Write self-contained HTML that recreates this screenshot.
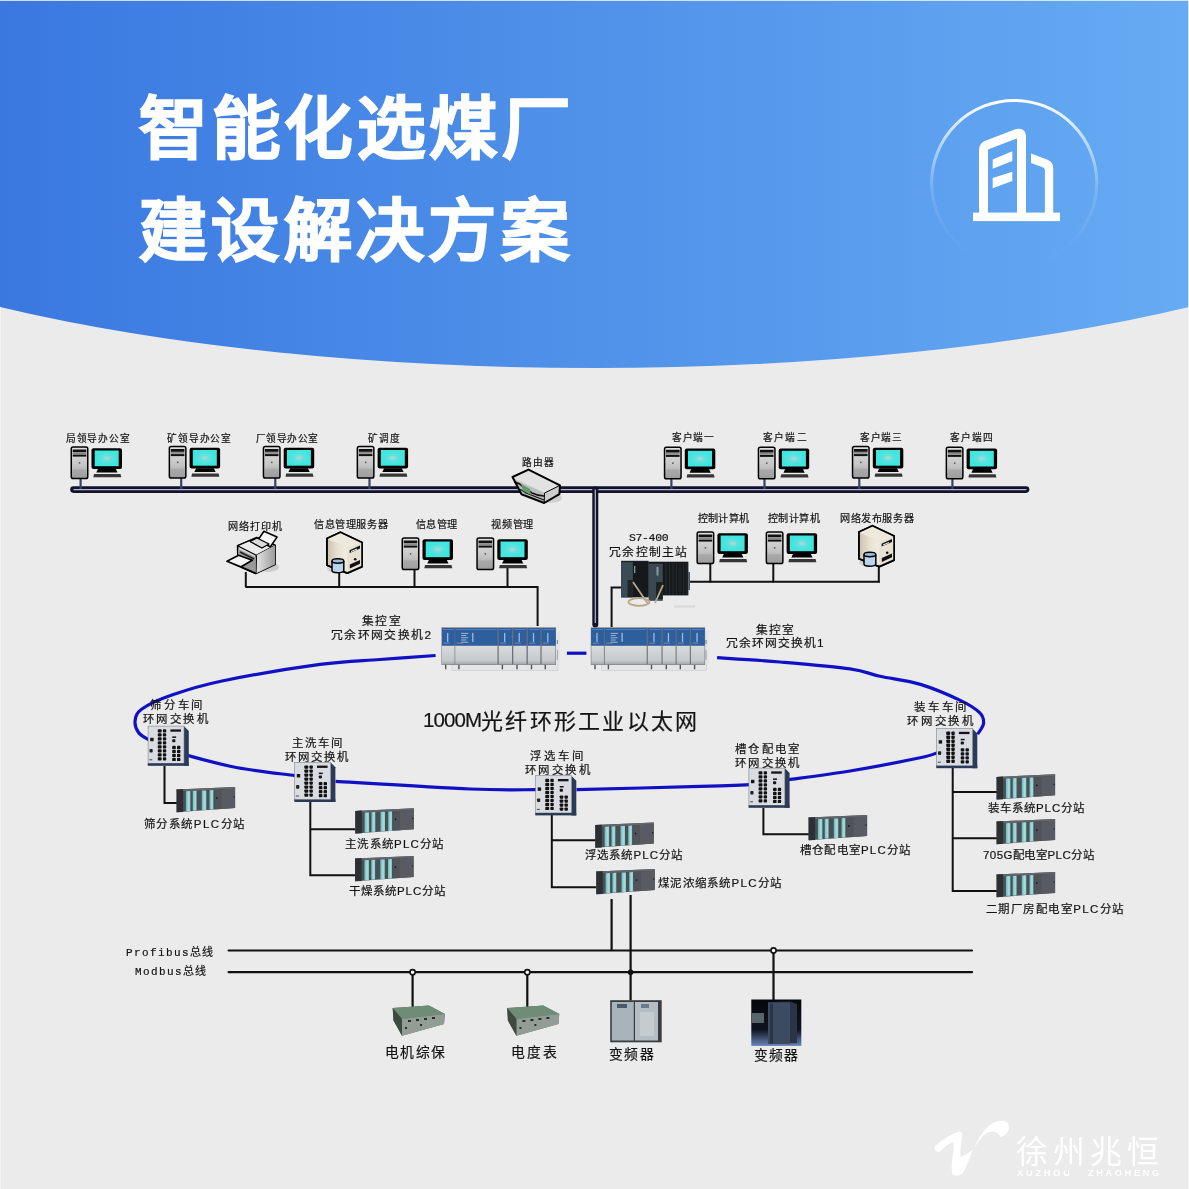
<!DOCTYPE html>
<html lang="zh-CN"><head><meta charset="utf-8"><title>智能化选煤厂建设解决方案</title>
<style>
html,body{margin:0;padding:0;}
body{width:1189px;height:1189px;position:relative;overflow:hidden;background:#ebebeb;font-family:"Liberation Sans",sans-serif;}
svg{position:absolute;left:0;top:0;}
.l{position:absolute;white-space:nowrap;line-height:1;color:#141414;will-change:transform;}
.t{color:#fff;}
</style></head><body>
<svg width="1189" height="1189" viewBox="0 0 1189 1189">
<defs>
<linearGradient id="hg" x1="0" x2="1" y1="0" y2="0"><stop offset="0" stop-color="#3a78e0"/><stop offset="1" stop-color="#66abf3"/></linearGradient>
<linearGradient id="cg" x1="0" x2="0" y1="0" y2="1"><stop offset="0" stop-color="#fff" stop-opacity="1"/><stop offset="0.3" stop-color="#fff" stop-opacity="0.5"/><stop offset="0.55" stop-color="#fff" stop-opacity="0.14"/><stop offset="0.85" stop-color="#fff" stop-opacity="0.02"/><stop offset="1" stop-color="#fff" stop-opacity="0"/></linearGradient>
<linearGradient id="towerg" x1="0" x2="0" y1="0" y2="1"><stop offset="0" stop-color="#e0e0e0"/><stop offset="0.6" stop-color="#c4c4c4"/><stop offset="1" stop-color="#9a9a9a"/></linearGradient>
<radialGradient id="scrg" r="0.45"><stop offset="0" stop-color="#b4d8d8"/><stop offset="0.45" stop-color="#5ee2de"/><stop offset="1" stop-color="#3ee6e0"/></radialGradient>
<linearGradient id="swgrey" x1="0" x2="0" y1="0" y2="1"><stop offset="0" stop-color="#d8dcdf"/><stop offset="0.8" stop-color="#c6c9cc"/><stop offset="1" stop-color="#a4a8ac"/></linearGradient>
<linearGradient id="tealg" x1="0" x2="1"><stop offset="0" stop-color="#6ab8bc"/><stop offset="0.6" stop-color="#a8dcda"/><stop offset="1" stop-color="#88cccc"/></linearGradient>
<linearGradient id="beige" x1="0" x2="1"><stop offset="0" stop-color="#cdc3ae"/><stop offset="0.5" stop-color="#e9e2d2"/><stop offset="1" stop-color="#f2ede2"/></linearGradient>
<linearGradient id="prg" x1="0" x2="1"><stop offset="0" stop-color="#e6e6e6"/><stop offset="1" stop-color="#9c9c9c"/></linearGradient>
<g id="pc">
 <rect x="0.75" y="0.75" width="16.5" height="31.5" rx="1.8" fill="url(#towerg)" stroke="#000" stroke-width="1.5"/>
 <rect x="2.2" y="3.2" width="13.6" height="2.8" fill="#111"/>
 <rect x="2.2" y="6.2" width="13.6" height="1.8" fill="#8a8a8a"/>
 <rect x="2.2" y="8.3" width="13.6" height="2" fill="#111"/>
 <rect x="8.3" y="15.8" width="1.5" height="1.5" fill="#555"/>
 <rect x="2.2" y="23" width="13.6" height="7.5" fill="#a0a0a0" opacity="0.6"/>
 <rect x="21" y="2" width="30.5" height="20.7" rx="2" fill="#000"/>
 <rect x="24.2" y="4.2" width="24" height="15.7" fill="url(#scrg)"/>
 <path d="M27.5,22.5 H45.2 L47,26.2 H25.8 Z" fill="#000"/>
 <path d="M23.5,27.7 H50 L50.8,31 H22.8 Z" fill="#353535"/>
</g>
<g id="sw">
 <path d="M36,0.3 L41,5.3 V40 H36 Z" fill="#2b3a57"/>
 <rect x="0.3" y="0.3" width="35.9" height="38.3" fill="#d9dde2" stroke="#7c8490" stroke-width="0.6"/>
 <rect x="0" y="37.4" width="41" height="2.6" fill="#2b3a57"/>
 <g fill="#111"><rect x="9.95" y="3.4" width="3.9" height="3.3" rx="0.9"/><rect x="15.05" y="3.4" width="3.4" height="3.3" rx="0.9"/><rect x="9.95" y="7.4" width="3.9" height="3.3" rx="0.9"/><rect x="15.05" y="7.4" width="3.4" height="3.3" rx="0.9"/><rect x="9.95" y="11.4" width="3.9" height="3.3" rx="0.9"/><rect x="15.05" y="11.4" width="3.4" height="3.3" rx="0.9"/><rect x="9.95" y="15.4" width="3.9" height="3.3" rx="0.9"/><rect x="15.05" y="15.4" width="3.4" height="3.3" rx="0.9"/><rect x="9.95" y="19.4" width="3.9" height="3.3" rx="0.9"/><rect x="15.05" y="19.4" width="3.4" height="3.3" rx="0.9"/><rect x="9.95" y="23.4" width="3.9" height="3.3" rx="0.9"/><rect x="15.05" y="23.4" width="3.4" height="3.3" rx="0.9"/><rect x="9.95" y="27.4" width="3.9" height="3.3" rx="0.9"/><rect x="15.05" y="27.4" width="3.4" height="3.3" rx="0.9"/><rect x="9.95" y="31.4" width="3.9" height="3.3" rx="0.9"/><rect x="15.05" y="31.4" width="3.4" height="3.3" rx="0.9"/><rect x="24.4" y="20.0" width="3.6" height="3.3" rx="0.9"/><rect x="29.2" y="20.0" width="3.4" height="3.3" rx="0.9"/><rect x="24.4" y="24.0" width="3.6" height="3.3" rx="0.9"/><rect x="29.2" y="24.0" width="3.4" height="3.3" rx="0.9"/><rect x="24.4" y="28.0" width="3.6" height="3.3" rx="0.9"/><rect x="29.2" y="28.0" width="3.4" height="3.3" rx="0.9"/><rect x="24.4" y="32.0" width="3.6" height="3.3" rx="0.9"/><rect x="29.2" y="32.0" width="3.4" height="3.3" rx="0.9"/></g>
 
 <rect x="22.6" y="3.6" width="10.6" height="2.3" fill="#151515"/>
 <rect x="24.4" y="10.6" width="4" height="1.5" fill="#151515"/>
 <rect x="24.4" y="13.4" width="3.2" height="3" rx="0.8" fill="#151515"/>
 <rect x="2.4" y="12" width="3.4" height="3.4" fill="#151515"/>
 <rect x="1.7" y="23.1" width="3.2" height="3.6" rx="0.8" fill="#222"/>
 <rect x="1.5" y="33.5" width="3" height="1" fill="#444"/>
</g>
<g id="plc">
 <path d="M0.3,2.6 L58.8,0 V21 L0.3,25.3 Z" fill="#4a4e55"/>
 <path d="M0.3,2.6 L58.8,0 V1.8 L0.3,4.6 Z" fill="#62666c"/>
 <path d="M0.3,2.6 L6.8,2.3 V24.9 L0.3,25.3 Z" fill="#2c3034"/>
 <path d="M9.6,4.3 L14.1,4.1 V23.9 L9.6,24.2 Z" fill="url(#tealg)"/>
 <path d="M16.4,4.0 L20.3,3.8 V23.5 L16.4,23.8 Z" fill="url(#tealg)"/>
 <path d="M25.5,3.6 L30,3.4 V22.9 L25.5,23.2 Z" fill="url(#tealg)"/>
 <path d="M33.2,3.3 L37.1,3.1 V22.4 L33.2,22.6 Z" fill="url(#tealg)"/>
 <path d="M38.5,2.9 L45,2.6 V21.9 L38.5,22.3 Z" fill="#50545a"/>
 <path d="M45,2.6 L58.8,1.8 V21 L45,21.9 Z" fill="#585b61"/>
 <rect x="39.8" y="10.3" width="1.5" height="1.5" fill="#111"/>
 <rect x="57" y="9.5" width="1.3" height="1.3" fill="#222"/>
</g>
<g id="srv" stroke-linejoin="round">
 <ellipse cx="10" cy="37" rx="9" ry="4" fill="#c8c8c8" opacity="0.7"/>
 <path d="M0.9,6.4 L14.4,0.2 L36.1,10.6 L36.1,34.6 L21.3,41.1 L0.9,33.2 Z" fill="#ddd5c4" stroke="#000" stroke-width="1.7"/>
 <path d="M0.9,6.4 L14.4,0.2 L36.1,10.6 L21.8,16.5 Z" fill="#eee9dd"/>
 <path d="M1.8,7.5 L21.8,16.5 L21.3,40 L1.8,32.5 Z" fill="url(#beige)"/>
 <path d="M21.8,16.5 L36.1,10.6 L36.1,34.6 L21.3,41.1 Z" fill="#e8e2d4"/>
 <path d="M23.6,18.2 L34,13.6 V16.4 L23.6,21 Z" fill="#111"/>
 <path d="M25,19.5 L31,17" stroke="#fff" stroke-width="1"/>
 <circle cx="29.2" cy="27.2" r="1.3" fill="#111"/>
 <path d="M23.8,32.5 L34,28 V31.8 L23.8,36.5 Z" fill="#111"/>
 <path d="M0.9,6.4 L14.4,0.2 L36.1,10.6 L36.1,34.6 L21.3,41.1 L0.9,33.2 Z" fill="none" stroke="#000" stroke-width="1.7"/>
 <path d="M6,29 V38.6 A5.9,2.2 0 0 0 17.8,38.6 V29" fill="#b8d4ee" stroke="#000" stroke-width="1.5"/>
 <ellipse cx="11.9" cy="29" rx="5.9" ry="2.2" fill="#9cbce0" stroke="#000" stroke-width="1.5"/>
</g>
</defs>
<path d="M0,0 H1189 V307 A900,244.8 0 0 1 0,307 Z" fill="url(#hg)"/>
<rect x="0" y="0" width="1189" height="1" fill="#f4f8ff" opacity="0.8"/>
<rect x="1188" y="0" width="1" height="308" fill="#f4f8ff" opacity="0.8"/><rect x="1188" y="308" width="1" height="881" fill="#f6f6f6"/><rect x="0" y="307" width="1" height="882" fill="#f4f4f4"/>
<circle cx="1014.2" cy="183" r="82.6" fill="none" stroke="url(#cg)" stroke-width="3"/>
<g fill="none" stroke="#fff" stroke-width="9" stroke-linejoin="round">
 <path d="M983.5,213 V150 Q983.5,146.5 987,145 L1017,133.5 Q1021.5,132 1021.5,137 V213"/>
</g>
<rect x="973" y="212.6" width="87" height="8.5" fill="#fff"/>
<path d="M1031,153.6 L1047,159.6 Q1053.2,162 1053.2,168 V214 H1044.9 V170 Q1044.9,168.2 1043.2,167.6 L1031,163 Z" fill="#fff"/>
<path d="M992.7,159.5 L1012.3,151.3 V161 L992.7,168.8 Z" fill="#fff"/>
<path d="M992.7,178 L1012.3,171.7 V181 L992.7,188.2 Z" fill="#fff"/>

<path d="M73.5,489.6 H1026" stroke="#12132a" stroke-width="6.6" stroke-linecap="round"/>
<path d="M74,489.6 H1026" stroke="#b4b8d0" stroke-width="1.3" stroke-linecap="round"/>
<path d="M595.3,489.6 V624.5" stroke="#12132a" stroke-width="6" stroke-linecap="round"/>
<path d="M595.3,489.6 V623" stroke="#b4b8d0" stroke-width="1.2"/>
<path d="M80.6,478.3 V489" stroke="#3b4064" stroke-width="2.2"/>
<use href="#pc" x="70.5" y="446.3"/>
<path d="M181.2,477.8 V489" stroke="#3b4064" stroke-width="2.2"/>
<use href="#pc" x="168.6" y="445.8"/>
<path d="M275.3,477.8 V489" stroke="#3b4064" stroke-width="2.2"/>
<use href="#pc" x="262.7" y="445.8"/>
<path d="M369.5,477.8 V489" stroke="#3b4064" stroke-width="2.2"/>
<use href="#pc" x="356.6" y="445.8"/>
<path d="M671.4,478.6 V489" stroke="#3b4064" stroke-width="2.2"/>
<use href="#pc" x="663.8" y="446.6"/>
<path d="M764.5,478.6 V489" stroke="#3b4064" stroke-width="2.2"/>
<use href="#pc" x="757.7" y="446.6"/>
<path d="M859.3,477.8 V489" stroke="#3b4064" stroke-width="2.2"/>
<use href="#pc" x="851.8" y="445.8"/>
<path d="M952.4,478.6 V489" stroke="#3b4064" stroke-width="2.2"/>
<use href="#pc" x="945.6" y="446.6"/>
<g stroke-linejoin="round">
<ellipse cx="550" cy="498" rx="12" ry="5" fill="#c8c8c8" opacity="0.8"/>
<path d="M512.5,477 L528.5,469.6 L560,485.4 L559.4,494.2 L544.2,503 L521.5,494.2 Z" fill="#d4d4d4"/>
<path d="M512.5,477 L528.5,469.6 L560,485.4 L544.5,493 Z" fill="#e2e2e2"/>
<path d="M544.5,493 L560,485.4 L559.4,494.2 L544.2,503 Z" fill="#cdcdcd"/>
<path d="M513,479 L544.5,493 L544.2,503 L521.5,494.2 Z" fill="#bdbdbd"/>
<path d="M514,482 Q520,483 523,487 L532,493 Q538,496 544,496" fill="none" stroke="#111" stroke-width="1.6"/>
<path d="M517,488 Q522,490 526,493 L544,500" fill="none" stroke="#111" stroke-width="1.3"/>
<path d="M521,484 L530,489 L531,495 L523,491 Z" fill="#5f9a6a"/>
<path d="M512.5,477 L528.5,469.6 L560,485.4 L559.4,494.2 L544.2,503 L521.5,494.2 Z" fill="none" stroke="#000" stroke-width="2"/>
<path d="M544.5,493 L560,485.4 M544.5,493 L544.2,503" stroke="#000" stroke-width="1"/>
</g>
<path d="M245.3,586.9 H537.6 V626" stroke="#111" stroke-width="2" fill="none"/>
<path d="M245.8,572 V587" stroke="#111" stroke-width="2"/>
<path d="M339.2,572 V587" stroke="#111" stroke-width="2"/>
<path d="M414.5,570 V587" stroke="#111" stroke-width="2"/>
<path d="M507.5,567 V587" stroke="#111" stroke-width="2"/>
<use href="#pc" x="401.5" y="537.3"/>
<use href="#pc" x="476.3" y="537.3"/>
<g stroke-linejoin="round">
<ellipse cx="268" cy="567" rx="11" ry="5" fill="#c4c4c4" opacity="0.8"/>
<path d="M237.6,545.7 L256.8,537.6 L275,545.2 L275,564.4 L255.8,573.4 L238.1,565.4 Z" fill="#d6d6d6" stroke="#000" stroke-width="1.7"/>
<path d="M237.6,545.7 L256.8,537.6 L275,545.2 L256.3,555.3 Z" fill="#ececec" stroke="#000" stroke-width="1.2"/>
<path d="M256.3,555.3 L275,545.2 L275,564.4 L255.8,573.4 Z" fill="url(#prg)"/>
<path d="M256.3,555.3 L255.8,573.4" stroke="#000" stroke-width="1.5"/>
<path d="M238.1,549 L256,557.5 L255.8,573.4 L238.1,565.4 Z" fill="#9a9a9a"/>
<path d="M240,552 L254,559" stroke="#222" stroke-width="1.6"/>
<path d="M263.9,531.3 L277,537.1 L270.4,546.7 L257.5,540.8 Z" fill="#f6f6f6" stroke="#000" stroke-width="1.6"/>
<path d="M250,541.5 L257,538 L269,544 L262,548 Z" fill="#dcdcdc" stroke="#000" stroke-width="1.3"/>
<path d="M227,561.3 L238.6,555.3 L252.3,560.3 L240.7,566.9 Z" fill="#f4f4f4" stroke="#000" stroke-width="1.7"/>
<path d="M240.7,566.9 L255.8,573.4" stroke="#000" stroke-width="1.7"/>
</g>
<use href="#srv" x="326" y="532"/>
<g>
<rect x="621.1" y="560.8" width="27.5" height="36.6" fill="#1b1f23"/>
<rect x="621.1" y="562.2" width="11.7" height="35.2" fill="#3b4b55"/>
<rect x="627.5" y="580" width="5.3" height="17" fill="#1e2428"/>
<rect x="633.5" y="562" width="15" height="35" fill="#15191c"/>
<rect x="634" y="566" width="1.3" height="7" fill="#7fa0a0"/>
<rect x="648.6" y="561.7" width="39.8" height="33.7" fill="#16191c"/>
<rect x="648.6" y="563.7" width="14.2" height="37.1" fill="#3a4852"/>
<rect x="656.5" y="567" width="2" height="8.5" fill="#7fa0a0"/>
<rect x="656" y="582" width="6.8" height="17" fill="#1c2226"/>
<g stroke="#2e3438" stroke-width="0.7"><path d="M666,563 V595"/><path d="M669.5,563 V595"/><path d="M673,563 V595"/><path d="M676.5,563 V595"/><path d="M680,563 V595"/><path d="M683.5,563 V595"/><path d="M687,563 V595"/></g>
<rect x="688.4" y="572" width="1.5" height="18" fill="#3a4450"/>
<g fill="none" stroke="#b8a888" stroke-width="1.8">
<ellipse cx="639" cy="602" rx="10.5" ry="3.8"/>
<path d="M633,582 L648,604"/><path d="M663,585 L655,603"/>
</g>
<rect x="674" y="605.5" width="21" height="2" fill="#d8d8d8"/>
</g>
<path d="M611.6,627 V587.6 H621" stroke="#111" stroke-width="2" fill="none"/>
<path d="M690,581.8 H879.8" stroke="#111" stroke-width="2"/>
<path d="M710.3,564 V582.5" stroke="#111" stroke-width="2"/>
<path d="M773.3,564 V582.5" stroke="#111" stroke-width="2"/>
<path d="M878.8,566 V582.5" stroke="#111" stroke-width="2"/>
<use href="#pc" x="696.4" y="531.3"/>
<use href="#pc" x="765.6" y="531.3"/>
<use href="#srv" x="858" y="525.5"/>
<rect x="452" y="663.3" width="106" height="7.2000000000000455" fill="#e4e5e6" stroke="#c0c2c4" stroke-width="0.5"/><rect x="445" y="664.3" width="1.4" height="5" fill="#555"/><rect x="458.2" y="664.3" width="1.4" height="5" fill="#555"/><rect x="501.7" y="664.3" width="1.4" height="5" fill="#555"/><rect x="516.3" y="664.3" width="1.4" height="5" fill="#555"/><rect x="530.8" y="664.3" width="1.4" height="5" fill="#555"/><rect x="544.6" y="664.3" width="1.4" height="5" fill="#555"/><rect x="556" y="630.9" width="4" height="33.39999999999998" fill="#e2e4e6"/><rect x="556.8" y="639.9" width="1.2" height="4" fill="#888"/><rect x="556.8" y="649.9" width="1.2" height="10" fill="#aaa"/><rect x="441.5" y="627.4" width="114.5" height="37.39999999999998" fill="#6a7078"/><rect x="442" y="627.9" width="12.600000000000023" height="17.899999999999977" fill="#2d5e9e" rx="0.8"/><rect x="442" y="645.8" width="12.600000000000023" height="18.5" fill="url(#swgrey)"/><rect x="443" y="629.4" width="10.600000000000023" height="0.6" fill="#8aa0c0" opacity="0.8"/><rect x="447.04" y="632.9" width="1.3" height="9" fill="#c0d0e8" opacity="0.8"/><rect x="443.5" y="642.6999999999999" width="6" height="0.8" fill="#a0b4d0" opacity="0.7"/><rect x="455.2" y="627.9" width="42.30000000000001" height="17.899999999999977" fill="#2d5e9e" rx="0.8"/><rect x="455.2" y="645.8" width="42.30000000000001" height="18.5" fill="url(#swgrey)"/><rect x="456.2" y="629.4" width="40.30000000000001" height="0.6" fill="#8aa0c0" opacity="0.8"/><rect x="472.12" y="632.9" width="1.3" height="9" fill="#c0d0e8" opacity="0.8"/><rect x="456.7" y="642.6999999999999" width="6" height="0.8" fill="#a0b4d0" opacity="0.7"/><rect x="498.7" y="627.9" width="13.300000000000011" height="17.899999999999977" fill="#2d5e9e" rx="0.8"/><rect x="498.7" y="645.8" width="13.300000000000011" height="18.5" fill="url(#swgrey)"/><rect x="499.7" y="629.4" width="11.300000000000011" height="0.6" fill="#8aa0c0" opacity="0.8"/><rect x="504.02" y="632.9" width="1.3" height="9" fill="#c0d0e8" opacity="0.8"/><rect x="500.2" y="642.6999999999999" width="6" height="0.8" fill="#a0b4d0" opacity="0.7"/><rect x="513.3" y="627.9" width="13.200000000000045" height="17.899999999999977" fill="#2d5e9e" rx="0.8"/><rect x="513.3" y="645.8" width="13.200000000000045" height="18.5" fill="url(#swgrey)"/><rect x="514.3" y="629.4" width="11.200000000000045" height="0.6" fill="#8aa0c0" opacity="0.8"/><rect x="518.5799999999999" y="632.9" width="1.3" height="9" fill="#c0d0e8" opacity="0.8"/><rect x="514.8" y="642.6999999999999" width="6" height="0.8" fill="#a0b4d0" opacity="0.7"/><rect x="527.8" y="627.9" width="12.600000000000023" height="17.899999999999977" fill="#2d5e9e" rx="0.8"/><rect x="527.8" y="645.8" width="12.600000000000023" height="18.5" fill="url(#swgrey)"/><rect x="528.8" y="629.4" width="10.600000000000023" height="0.6" fill="#8aa0c0" opacity="0.8"/><rect x="532.8399999999999" y="632.9" width="1.3" height="9" fill="#c0d0e8" opacity="0.8"/><rect x="529.3" y="642.6999999999999" width="6" height="0.8" fill="#a0b4d0" opacity="0.7"/><rect x="541.6" y="627.9" width="13.899999999999977" height="17.899999999999977" fill="#2d5e9e" rx="0.8"/><rect x="541.6" y="645.8" width="13.899999999999977" height="18.5" fill="url(#swgrey)"/><rect x="542.6" y="629.4" width="11.899999999999977" height="0.6" fill="#8aa0c0" opacity="0.8"/><rect x="547.16" y="632.9" width="1.3" height="9" fill="#c0d0e8" opacity="0.8"/><rect x="543.1" y="642.6999999999999" width="6" height="0.8" fill="#a0b4d0" opacity="0.7"/><rect x="461.2" y="632.9" width="7" height="1" fill="#c8d4e8" opacity="0.75"/><rect x="461.2" y="635.1" width="5" height="1" fill="#c8d4e8" opacity="0.75"/><rect x="461.2" y="637.3" width="7" height="1" fill="#c8d4e8" opacity="0.75"/><rect x="461.2" y="639.5" width="5" height="1" fill="#c8d4e8" opacity="0.75"/><rect x="461.2" y="641.6999999999999" width="7" height="1" fill="#c8d4e8" opacity="0.75"/>
<rect x="601.3" y="663.3" width="105.30000000000007" height="7.2000000000000455" fill="#e4e5e6" stroke="#c0c2c4" stroke-width="0.5"/><rect x="594.3" y="664.3" width="1.4" height="5" fill="#555"/><rect x="607.7" y="664.3" width="1.4" height="5" fill="#555"/><rect x="650.8" y="664.3" width="1.4" height="5" fill="#555"/><rect x="665.6" y="664.3" width="1.4" height="5" fill="#555"/><rect x="679.6" y="664.3" width="1.4" height="5" fill="#555"/><rect x="693.9" y="664.3" width="1.4" height="5" fill="#555"/><rect x="704.6" y="630.9" width="4" height="33.39999999999998" fill="#e2e4e6"/><rect x="705.4" y="639.9" width="1.2" height="4" fill="#888"/><rect x="705.4" y="649.9" width="1.2" height="10" fill="#aaa"/><rect x="590.8" y="627.4" width="114.30000000000007" height="37.39999999999998" fill="#6a7078"/><rect x="591.3" y="627.9" width="12.600000000000023" height="17.899999999999977" fill="#2d5e9e" rx="0.8"/><rect x="591.3" y="645.8" width="12.600000000000023" height="18.5" fill="url(#swgrey)"/><rect x="592.3" y="629.4" width="10.600000000000023" height="0.6" fill="#8aa0c0" opacity="0.8"/><rect x="596.3399999999999" y="632.9" width="1.3" height="9" fill="#c0d0e8" opacity="0.8"/><rect x="592.8" y="642.6999999999999" width="6" height="0.8" fill="#a0b4d0" opacity="0.7"/><rect x="604.7" y="627.9" width="42.0" height="17.899999999999977" fill="#2d5e9e" rx="0.8"/><rect x="604.7" y="645.8" width="42.0" height="18.5" fill="url(#swgrey)"/><rect x="605.7" y="629.4" width="40.0" height="0.6" fill="#8aa0c0" opacity="0.8"/><rect x="621.5" y="632.9" width="1.3" height="9" fill="#c0d0e8" opacity="0.8"/><rect x="606.2" y="642.6999999999999" width="6" height="0.8" fill="#a0b4d0" opacity="0.7"/><rect x="647.8" y="627.9" width="13.700000000000045" height="17.899999999999977" fill="#2d5e9e" rx="0.8"/><rect x="647.8" y="645.8" width="13.700000000000045" height="18.5" fill="url(#swgrey)"/><rect x="648.8" y="629.4" width="11.700000000000045" height="0.6" fill="#8aa0c0" opacity="0.8"/><rect x="653.28" y="632.9" width="1.3" height="9" fill="#c0d0e8" opacity="0.8"/><rect x="649.3" y="642.6999999999999" width="6" height="0.8" fill="#a0b4d0" opacity="0.7"/><rect x="662.6" y="627.9" width="13.0" height="17.899999999999977" fill="#2d5e9e" rx="0.8"/><rect x="662.6" y="645.8" width="13.0" height="18.5" fill="url(#swgrey)"/><rect x="663.6" y="629.4" width="11.0" height="0.6" fill="#8aa0c0" opacity="0.8"/><rect x="667.8000000000001" y="632.9" width="1.3" height="9" fill="#c0d0e8" opacity="0.8"/><rect x="664.1" y="642.6999999999999" width="6" height="0.8" fill="#a0b4d0" opacity="0.7"/><rect x="676.6" y="627.9" width="13.199999999999932" height="17.899999999999977" fill="#2d5e9e" rx="0.8"/><rect x="676.6" y="645.8" width="13.199999999999932" height="18.5" fill="url(#swgrey)"/><rect x="677.6" y="629.4" width="11.199999999999932" height="0.6" fill="#8aa0c0" opacity="0.8"/><rect x="681.88" y="632.9" width="1.3" height="9" fill="#c0d0e8" opacity="0.8"/><rect x="678.1" y="642.6999999999999" width="6" height="0.8" fill="#a0b4d0" opacity="0.7"/><rect x="690.9" y="627.9" width="13.700000000000045" height="17.899999999999977" fill="#2d5e9e" rx="0.8"/><rect x="690.9" y="645.8" width="13.700000000000045" height="18.5" fill="url(#swgrey)"/><rect x="691.9" y="629.4" width="11.700000000000045" height="0.6" fill="#8aa0c0" opacity="0.8"/><rect x="696.38" y="632.9" width="1.3" height="9" fill="#c0d0e8" opacity="0.8"/><rect x="692.4" y="642.6999999999999" width="6" height="0.8" fill="#a0b4d0" opacity="0.7"/><rect x="610.7" y="632.9" width="7" height="1" fill="#c8d4e8" opacity="0.75"/><rect x="610.7" y="635.1" width="5" height="1" fill="#c8d4e8" opacity="0.75"/><rect x="610.7" y="637.3" width="7" height="1" fill="#c8d4e8" opacity="0.75"/><rect x="610.7" y="639.5" width="5" height="1" fill="#c8d4e8" opacity="0.75"/><rect x="610.7" y="641.6999999999999" width="7" height="1" fill="#c8d4e8" opacity="0.75"/>
<path d="M435.6,655.5 C426.3,656.2 399.3,658.0 380.0,659.5 C360.7,661.0 346.5,660.8 320.0,664.4 C293.5,668.0 245.8,676.0 220.9,681.2 C196.0,686.4 183.7,690.9 170.5,695.5 C157.3,700.1 147.8,704.8 141.9,709.0 C136.0,713.2 135.7,716.8 135.1,720.7 C134.5,724.6 136.4,729.4 138.5,732.5 C140.6,735.6 146.2,738.1 149,739.8" fill="none" stroke="#1010c4" stroke-width="3.2"/>
<path d="M188,755.5 C197.1,758.0 220.3,764.6 237.7,767.8 C255.1,771.0 284.0,774.1 295,775.6" fill="none" stroke="#1010c4" stroke-width="3.2"/>
<path d="M335.6,781.4 C358.0,782.7 436.7,787.6 470.0,789.0 C503.3,790.4 524.4,789.6 536,789.7" fill="none" stroke="#1010c4" stroke-width="3.2"/>
<path d="M576.5,789.7 C597.1,789.2 671.3,787.2 700.0,786.4 C728.7,785.6 740.5,785.0 749.5,784.7" fill="none" stroke="#1010c4" stroke-width="3.2"/>
<path d="M789.0,779.6 C799.2,778.2 828.2,774.6 850.0,771.0 C871.8,767.4 905.6,760.8 920.0,757.8 C934.4,754.8 933.8,753.8 937.5,752.7" fill="none" stroke="#1010c4" stroke-width="3.2"/>
<path d="M977.6,734.2 C978.6,732.4 983.3,727.0 983.6,723.4 C983.9,719.8 983.4,716.5 979.6,712.7 C975.8,708.9 970.7,705.3 960.8,700.6 C950.9,695.9 933.9,688.5 920.4,684.4 C906.9,680.3 891.7,678.9 880.0,676.3 C868.3,673.7 866.7,671.3 850.0,668.9 C833.3,666.5 802.1,663.9 780.0,662.0 C757.9,660.1 727.6,658.4 717.1,657.7" fill="none" stroke="#1010c4" stroke-width="3.2"/>
<path d="M566.9,653.2 H586.4" fill="none" stroke="#1010c4" stroke-width="3.2"/>
<path d="M164.5,766 V802.9 H177" stroke="#111" stroke-width="2" fill="none"/>
<path d="M310.3,802 V875.3 H355 M310.3,829.3 H355" stroke="#111" stroke-width="2" fill="none"/>
<path d="M551.8,815 V887.3 H596 M551.8,840.2 H596" stroke="#111" stroke-width="2" fill="none"/>
<path d="M763.4,808 V834.3 H809" stroke="#111" stroke-width="2" fill="none"/>
<path d="M952.7,767.5 V890.9 H997 M952.7,792 H997 M952.7,838.2 H997" stroke="#111" stroke-width="2" fill="none"/>
<use href="#sw" x="147.8" y="725.8"/>
<use href="#sw" x="294.4" y="762"/>
<use href="#sw" x="535.3" y="775.4"/>
<use href="#sw" x="748.6" y="767.8"/>
<use href="#sw" x="936.3" y="728.2"/>
<use href="#plc" x="176.3" y="787"/>
<use href="#plc" x="355" y="808.3"/>
<use href="#plc" x="354.8" y="856"/>
<use href="#plc" x="595" y="822.5"/>
<use href="#plc" x="596" y="869"/>
<use href="#plc" x="808.3" y="815"/>
<use href="#plc" x="996.3" y="774.3"/>
<use href="#plc" x="996.3" y="818.9"/>
<use href="#plc" x="996.3" y="871.9"/>
<path d="M228.6,950.5 H972 M228.6,972.2 H972" stroke="#111" stroke-width="2.2" stroke-linecap="round"/>
<path d="M611.6,899 V950.5 M630.6,895 V1000.5 M773.5,950.5 V1000 M412.6,972 V1008 M527.3,972 V1007" stroke="#111" stroke-width="2.2"/>
<circle cx="630.6" cy="972.2" r="2.8" fill="#111"/>
<circle cx="412.6" cy="972.2" r="2.6" fill="#fff" stroke="#111" stroke-width="1.6"/>
<circle cx="527.3" cy="972.2" r="2.6" fill="#fff" stroke="#111" stroke-width="1.6"/>
<circle cx="773.5" cy="950.5" r="2.6" fill="#fff" stroke="#111" stroke-width="1.6"/>
<g transform="translate(0.0,0)">
<path d="M392.7,1008 L428.9,1005.5 L444.9,1014 L444,1024 L402,1035.8 L393.5,1020.6 Z" fill="#5e6e60"/>
<path d="M392.7,1008 L428.9,1005.5 L444.9,1014 L402,1019 Z" fill="#6f8c76"/>
<path d="M402,1019 L444.9,1014 L444,1024 L402,1035.8 Z" fill="#929d95"/>
<path d="M392.7,1008 L402,1019 L402,1035.8 L393.5,1020.6 Z" fill="#3e4a40"/>
<g fill="#2a2a2a"><rect x="408" y="1020" width="3" height="2"/><rect x="416" y="1019" width="3" height="2"/><rect x="424" y="1018" width="3" height="2"/><rect x="432" y="1017" width="3" height="2"/><rect x="405" y="1027" width="2" height="2"/><rect x="420" y="1024" width="2" height="2"/></g>
</g>
<g transform="translate(114.40000000000003,0)">
<path d="M392.7,1008 L428.9,1005.5 L444.9,1014 L444,1024 L402,1035.8 L393.5,1020.6 Z" fill="#5e6e60"/>
<path d="M392.7,1008 L428.9,1005.5 L444.9,1014 L402,1019 Z" fill="#6f8c76"/>
<path d="M402,1019 L444.9,1014 L444,1024 L402,1035.8 Z" fill="#929d95"/>
<path d="M392.7,1008 L402,1019 L402,1035.8 L393.5,1020.6 Z" fill="#3e4a40"/>
<g fill="#2a2a2a"><rect x="408" y="1020" width="3" height="2"/><rect x="416" y="1019" width="3" height="2"/><rect x="424" y="1018" width="3" height="2"/><rect x="432" y="1017" width="3" height="2"/><rect x="405" y="1027" width="2" height="2"/><rect x="420" y="1024" width="2" height="2"/></g>
</g>
<g>
<rect x="610.2" y="1000.2" width="51.5" height="42.1" fill="#3a3c3e"/>
<rect x="611.8" y="1002" width="22" height="38.5" fill="#a8b4bc"/>
<rect x="635" y="1002" width="23" height="38.5" fill="#b4bec4"/>
<rect x="617" y="1004" width="10" height="4" fill="#4a5a6a"/>
<rect x="641" y="1004" width="8" height="4" fill="#6a7a86"/>
<rect x="640" y="1012" width="14" height="24" fill="#c4ccd0"/>
</g>
<g>
<defs><linearGradient id="vfl" x1="0" x2="0" y1="0" y2="1"><stop offset="0" stop-color="#05070c"/><stop offset="0.65" stop-color="#0e1420"/><stop offset="1" stop-color="#6a84b8"/></linearGradient></defs>
<rect x="751.3" y="999.5" width="50" height="46.4" fill="url(#vfl)"/>
<path d="M768,1002 L790,1001.5 L797,1004 V1043 L768,1044 Z" fill="#2a3446"/>
<rect x="768" y="1002.5" width="22" height="41.5" fill="#3c4a62"/>
<rect x="770" y="1003.5" width="3" height="40" fill="#2a3448"/>
<rect x="752" y="1013" width="12" height="10" fill="#6a7c80" opacity="0.8"/>
</g>
<g fill="#fff">
<path d="M934.3,1147 C940,1141 952,1133 958.6,1131.9 C961,1131.5 962.5,1133 962,1136 C961,1143 960,1150 960.6,1157 C965,1155 969,1152 972.1,1150.4 C977,1144 981,1138 983.9,1135.2 C987,1132 991,1131.5 994.8,1131.9 C997,1132.5 999,1135 1000.7,1136.9 C1005,1136 1009,1132 1009.1,1126.8 C1009,1122 1005,1120.5 1001,1120.7 C994,1121 988,1126 983.9,1131 C977,1140 972,1152 968.7,1160.5 C966,1167 964,1172 962,1173.9 C959,1176 954,1176.5 952.5,1174 C951,1170 952,1160 953.5,1150 C954,1146 953.5,1143 952.8,1142 C949,1143 944,1148 940.1,1151.2 C937,1153 934,1150 934.3,1147 Z"/>
</g>
</svg>
<div class="l t" style="left:139.1px;top:96.4px;font-size:68.55px;letter-spacing:3.55px;font-weight:900;-webkit-text-stroke:1.4px currentColor">智能化选煤厂</div>
<div class="l t" style="left:139.0px;top:196.8px;font-size:68.11px;letter-spacing:4.35px;font-weight:900;-webkit-text-stroke:1.4px currentColor">建设解决方案</div>
<div class="l" style="left:65.6px;top:434.1px;font-size:9.70px;letter-spacing:0.72px;font-weight:400;-webkit-text-stroke:0.2px currentColor">局领导办公室</div>
<div class="l" style="left:166.9px;top:434.1px;font-size:9.70px;letter-spacing:0.86px;font-weight:400;-webkit-text-stroke:0.2px currentColor">矿领导办公室</div>
<div class="l" style="left:256.2px;top:434.1px;font-size:9.70px;letter-spacing:0.44px;font-weight:400;-webkit-text-stroke:0.2px currentColor">厂领导办公室</div>
<div class="l" style="left:367.9px;top:434.1px;font-size:9.70px;letter-spacing:0.90px;font-weight:400;-webkit-text-stroke:0.2px currentColor">矿调度</div>
<div class="l" style="left:672.0px;top:433.2px;font-size:9.70px;letter-spacing:0.60px;font-weight:400;-webkit-text-stroke:0.2px currentColor">客户端一</div>
<div class="l" style="left:762.8px;top:433.2px;font-size:9.70px;letter-spacing:1.17px;font-weight:400;-webkit-text-stroke:0.2px currentColor">客户端二</div>
<div class="l" style="left:859.8px;top:433.2px;font-size:9.70px;letter-spacing:0.53px;font-weight:400;-webkit-text-stroke:0.2px currentColor">客户端三</div>
<div class="l" style="left:950.0px;top:433.2px;font-size:9.70px;letter-spacing:0.93px;font-weight:400;-webkit-text-stroke:0.2px currentColor">客户端四</div>
<div class="l" style="left:522.4px;top:457.8px;font-size:9.70px;letter-spacing:1.15px;font-weight:400;-webkit-text-stroke:0.2px currentColor">路由器</div>
<div class="l" style="left:228.3px;top:522.0px;font-size:10.10px;letter-spacing:1.10px;font-weight:400;-webkit-text-stroke:0.2px currentColor">网络打印机</div>
<div class="l" style="left:314.3px;top:520.2px;font-size:10.10px;letter-spacing:0.60px;font-weight:400;-webkit-text-stroke:0.2px currentColor">信息管理服务器</div>
<div class="l" style="left:416.3px;top:520.2px;font-size:10.10px;letter-spacing:0.47px;font-weight:400;-webkit-text-stroke:0.2px currentColor">信息管理</div>
<div class="l" style="left:490.6px;top:520.2px;font-size:10.10px;letter-spacing:0.83px;font-weight:400;-webkit-text-stroke:0.2px currentColor">视频管理</div>
<div class="l" style="left:697.7px;top:514.0px;font-size:10.10px;letter-spacing:0.20px;font-weight:400;-webkit-text-stroke:0.2px currentColor">控制计算机</div>
<div class="l" style="left:767.5px;top:514.0px;font-size:10.10px;letter-spacing:0.47px;font-weight:400;-webkit-text-stroke:0.2px currentColor">控制计算机</div>
<div class="l" style="left:840.4px;top:514.0px;font-size:10.10px;letter-spacing:0.62px;font-weight:400;-webkit-text-stroke:0.2px currentColor">网络发布服务器</div>
<div class="l" style="left:629.2px;top:532.4px;font-size:11.50px;letter-spacing:-0.36px;font-weight:400;-webkit-text-stroke:0.2px currentColor;font-family:'Liberation Mono',monospace">S7-400</div>
<div class="l" style="left:609.4px;top:547.2px;font-size:11.80px;letter-spacing:1.28px;font-weight:400;-webkit-text-stroke:0.2px currentColor">冗余控制主站</div>
<div class="l" style="left:361.8px;top:616.0px;font-size:11.80px;letter-spacing:1.45px;font-weight:400;-webkit-text-stroke:0.2px currentColor">集控室</div>
<div class="l" style="left:330.6px;top:630.2px;font-size:11.80px;letter-spacing:1.36px;font-weight:400;-webkit-text-stroke:0.2px currentColor">冗余环网交换机2</div>
<div class="l" style="left:755.6px;top:624.6px;font-size:11.80px;letter-spacing:1.15px;font-weight:400;-webkit-text-stroke:0.2px currentColor">集控室</div>
<div class="l" style="left:725.5px;top:637.9px;font-size:11.80px;letter-spacing:0.99px;font-weight:400;-webkit-text-stroke:0.2px currentColor">冗余环网交换机1</div>
<div class="l" style="left:422.5px;top:710.4px;font-size:20.50px;letter-spacing:-0.91px;font-weight:400;-webkit-text-stroke:0.2px currentColor">1000M</div>
<div class="l" style="left:481.0px;top:710.8px;font-size:22.00px;letter-spacing:2.28px;font-weight:400;-webkit-text-stroke:0.2px currentColor">光纤环形工业以太网</div>
<div class="l" style="left:149.5px;top:699.5px;font-size:11.40px;letter-spacing:2.80px;font-weight:400;-webkit-text-stroke:0.2px currentColor">筛分车间</div>
<div class="l" style="left:143.4px;top:714.1px;font-size:11.40px;letter-spacing:2.45px;font-weight:400;-webkit-text-stroke:0.2px currentColor">环网交换机</div>
<div class="l" style="left:292.1px;top:737.9px;font-size:11.40px;letter-spacing:2.00px;font-weight:400;-webkit-text-stroke:0.2px currentColor">主洗车间</div>
<div class="l" style="left:285.1px;top:752.1px;font-size:11.40px;letter-spacing:1.92px;font-weight:400;-webkit-text-stroke:0.2px currentColor">环网交换机</div>
<div class="l" style="left:530.2px;top:750.8px;font-size:11.40px;letter-spacing:3.13px;font-weight:400;-webkit-text-stroke:0.2px currentColor">浮选车间</div>
<div class="l" style="left:525.1px;top:764.6px;font-size:11.40px;letter-spacing:2.45px;font-weight:400;-webkit-text-stroke:0.2px currentColor">环网交换机</div>
<div class="l" style="left:735.0px;top:744.4px;font-size:11.40px;letter-spacing:2.27px;font-weight:400;-webkit-text-stroke:0.2px currentColor">槽仓配电室</div>
<div class="l" style="left:735.0px;top:757.9px;font-size:11.40px;letter-spacing:2.27px;font-weight:400;-webkit-text-stroke:0.2px currentColor">环网交换机</div>
<div class="l" style="left:913.9px;top:701.5px;font-size:11.40px;letter-spacing:2.77px;font-weight:400;-webkit-text-stroke:0.2px currentColor">装车车间</div>
<div class="l" style="left:907.0px;top:715.6px;font-size:11.40px;letter-spacing:2.77px;font-weight:400;-webkit-text-stroke:0.2px currentColor">环网交换机</div>
<div class="l" style="left:144.2px;top:819.0px;font-size:11.50px;letter-spacing:1.46px;font-weight:400;-webkit-text-stroke:0.2px currentColor">筛分系统PLC分站</div>
<div class="l" style="left:345.1px;top:839.2px;font-size:11.50px;letter-spacing:1.25px;font-weight:400;-webkit-text-stroke:0.2px currentColor">主洗系统PLC分站</div>
<div class="l" style="left:349.2px;top:886.4px;font-size:11.50px;letter-spacing:0.99px;font-weight:400;-webkit-text-stroke:0.2px currentColor">干燥系统PLC分站</div>
<div class="l" style="left:585.1px;top:850.4px;font-size:11.50px;letter-spacing:1.11px;font-weight:400;-webkit-text-stroke:0.2px currentColor">浮选系统PLC分站</div>
<div class="l" style="left:658.2px;top:877.9px;font-size:11.50px;letter-spacing:1.27px;font-weight:400;-webkit-text-stroke:0.2px currentColor">煤泥浓缩系统PLC分站</div>
<div class="l" style="left:800.0px;top:844.5px;font-size:11.50px;letter-spacing:1.19px;font-weight:400;-webkit-text-stroke:0.2px currentColor">槽仓配电室PLC分站</div>
<div class="l" style="left:987.5px;top:802.5px;font-size:11.50px;letter-spacing:0.99px;font-weight:400;-webkit-text-stroke:0.2px currentColor">装车系统PLC分站</div>
<div class="l" style="left:983.3px;top:850.2px;font-size:11.50px;letter-spacing:0.47px;font-weight:400;-webkit-text-stroke:0.2px currentColor">705G配电室PLC分站</div>
<div class="l" style="left:985.5px;top:903.5px;font-size:11.50px;letter-spacing:1.45px;font-weight:400;-webkit-text-stroke:0.2px currentColor">二期厂房配电室PLC分站</div>
<div class="l" style="left:126.1px;top:947.5px;font-size:11.00px;letter-spacing:1.41px;font-weight:400;-webkit-text-stroke:0.2px currentColor;font-family:'Liberation Mono',monospace">Profibus总线</div>
<div class="l" style="left:134.7px;top:966.8px;font-size:11.00px;letter-spacing:1.41px;font-weight:400;-webkit-text-stroke:0.2px currentColor;font-family:'Liberation Mono',monospace">Modbus总线</div>
<div class="l" style="left:384.9px;top:1045.8px;font-size:13.80px;letter-spacing:1.47px;font-weight:400;-webkit-text-stroke:0.2px currentColor">电机综保</div>
<div class="l" style="left:511.3px;top:1045.8px;font-size:13.80px;letter-spacing:1.75px;font-weight:400;-webkit-text-stroke:0.2px currentColor">电度表</div>
<div class="l" style="left:609.1px;top:1047.5px;font-size:13.80px;letter-spacing:1.35px;font-weight:400;-webkit-text-stroke:0.2px currentColor">变频器</div>
<div class="l" style="left:754.0px;top:1048.5px;font-size:13.80px;letter-spacing:1.05px;font-weight:400;-webkit-text-stroke:0.2px currentColor">变频器</div>
<div class="l t" style="left:1015.8px;top:1137.2px;font-size:31.88px;letter-spacing:5.13px;font-weight:300;color:#fff;">徐州兆恒</div>
<div class="l t" style="left:1017.0px;top:1169.4px;font-size:9.25px;letter-spacing:2.79px;font-weight:700;color:#fff;">XUZHOU</div>
<div class="l t" style="left:1087.8px;top:1169.4px;font-size:9.25px;letter-spacing:2.60px;font-weight:700;color:#fff;">ZHAOHENG</div>
</body></html>
